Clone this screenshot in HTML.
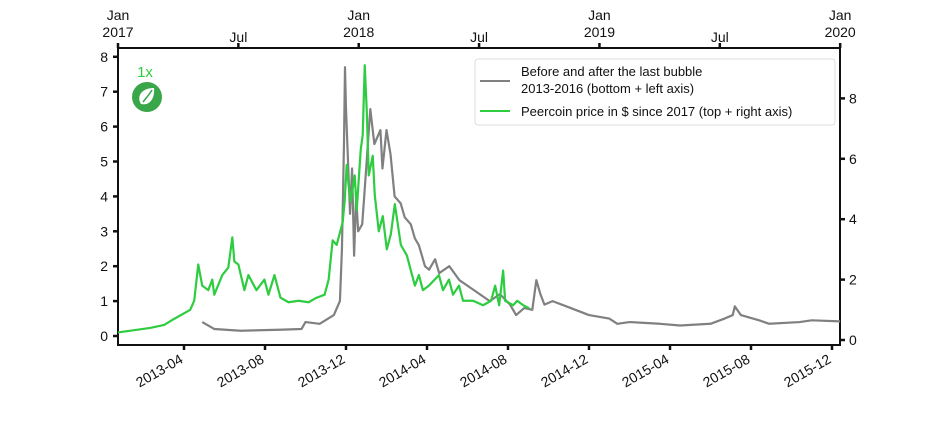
<!DOCTYPE html>
<html><head><meta charset="utf-8"><style>
body{margin:0;background:#fff;}
svg{font-family:"Liberation Sans",sans-serif;}
</style></head><body>
<svg id="chart" width="936" height="432" viewBox="0 0 936 432" xmlns="http://www.w3.org/2000/svg">
<g id="axes"></g>
<g id="series"></g>
<g>
  <text x="145" y="77" font-size="15" fill="#2ecc40" text-anchor="middle">1x</text>
  <circle cx="147" cy="97" r="15" fill="#3aa64a"/>
  <path d="M141 104 C136 96 142 88 154 88 C155 98 150 106 141 104 Z" fill="#fff"/>
  <path d="M143 102 C146 98 149 95 152 90" stroke="#3aa64a" stroke-width="1.5" fill="none"/>
</g>
<g>
  <rect x="475" y="59" width="360" height="66" rx="3" fill="#fff" stroke="#ddd" stroke-width="1"/>
  <line x1="480" y1="81" x2="510" y2="81" stroke="#808080" stroke-width="2"/>
  <text x="521" y="76" font-size="13" fill="#111">Before and after the last bubble</text>
  <text x="521" y="93" font-size="13" fill="#111">2013-2016 (bottom + left axis)</text>
  <line x1="480" y1="111" x2="510" y2="111" stroke="#2ecc40" stroke-width="2"/>
  <text x="521" y="116" font-size="13" fill="#111">Peercoin price in $ since 2017 (top + right axis)</text>
</g>
</svg>
<script>
// Gray series: months since 2013-01 (bottom axis), value on left axis
const grayMonths=[3.9,4.5,5.8,7.7,8.8,9.0,9.7,10.4,10.7,10.8,10.9,10.95,11.0,11.1,11.2,11.3,11.4,11.5,11.6,11.8,11.9,12.2,12.4,12.7,12.8,13.0,13.2,13.4,13.7,13.9,14.2,14.4,14.6,14.9,15.1,15.4,15.6,16.1,16.6,17.1,17.6,18.1,18.6,19.1,19.4,19.8,20.2,20.4,20.6,20.8,21.2,22.1,23.0,24.0,24.4,25.0,26.5,27.5,29.0,29.7,30.1,30.2,30.5,31.4,31.9,33.4,34.0,35.4];
const grayValues=[0.4,0.2,0.15,0.18,0.2,0.4,0.35,0.6,1.0,2.5,5.5,7.7,6.5,5.0,3.5,4.8,2.3,4.0,3.0,3.2,4.0,6.5,5.5,5.9,4.8,5.9,5.2,4.0,3.8,3.4,3.2,2.8,2.6,2.0,1.9,2.2,1.8,2.0,1.6,1.4,1.2,1.0,1.2,0.9,0.6,0.8,0.75,1.6,1.2,0.9,1.0,0.8,0.6,0.5,0.35,0.4,0.35,0.3,0.35,0.5,0.6,0.85,0.6,0.45,0.35,0.4,0.45,0.42];
// Green series: months since 2017-01 (top axis), value on right axis
const greenMonths=[0,1.6,2.3,2.8,3.6,3.8,4.0,4.2,4.5,4.7,4.8,5.2,5.5,5.7,5.8,6.0,6.3,6.5,6.9,7.3,7.5,7.8,8.1,8.5,9.0,9.5,9.9,10.3,10.5,10.7,10.9,11.2,11.3,11.4,11.5,11.6,11.8,11.9,12.1,12.2,12.3,12.4,12.5,12.7,12.8,13.0,13.2,13.4,13.6,13.8,14.1,14.4,14.6,14.8,15.0,15.2,15.5,16.0,16.2,16.5,16.7,17.0,17.2,17.7,18.2,18.6,18.8,19.0,19.2,19.3,19.7,19.9,20.2,20.5];
const greenValues=[0.25,0.4,0.5,0.7,1.0,1.3,2.5,1.8,1.65,2.0,1.5,2.15,2.4,3.4,2.6,2.5,1.65,2.15,1.65,2.0,1.5,2.15,1.4,1.25,1.3,1.25,1.4,1.5,2.0,3.3,3.15,3.9,4.6,5.8,5.1,4.6,5.45,4.3,6.3,6.8,9.1,7.6,5.45,6.1,4.8,3.6,4.1,3.0,3.5,4.5,3.15,2.8,2.3,1.8,2.15,1.65,1.8,2.15,1.65,2.0,1.5,1.8,1.3,1.3,1.15,1.3,1.8,1.15,2.3,1.3,1.15,1.3,1.15,1.05];
const leftTicks=[0,1,2,3,4,5,6,7,8];
const rightTicks=[0,2,4,6,8];
const bottomTickMonths=[3,7,11,15,19,23,27,31,35];
const bottomTickLabels=["2013-04","2013-08","2013-12","2014-04","2014-08","2014-12","2015-04","2015-08","2015-12"];
const topTickMonths=[0,6,12,18,24,30,36];
const topTickLabels=["Jan|2017","Jul","Jan|2018","Jul","Jan|2019","Jul","Jan|2020"];

const L=118,R=840,T=48,B=345;
const xB=m=>123.25+20.25*m;
const xT=m=>118+20.06*m;
const yL=v=>336-34.9*v;
const yR=v=>340-30.2*v;
const NS="http://www.w3.org/2000/svg";
const axes=document.getElementById('axes'),series=document.getElementById('series');
function mk(tag,attrs,parent){const e=document.createElementNS(NS,tag);for(const k in attrs)e.setAttribute(k,attrs[k]);parent.appendChild(e);return e;}

const frame=mk('rect',{x:L,y:T,width:R-L,height:B-T,fill:'none',stroke:'#111','stroke-width':2},axes);



leftTicks.forEach(v=>{
  const t=mk('line',{x1:L-5,x2:L,y1:yL(v),y2:yL(v),stroke:'#111','stroke-width':2.5},axes);
  
  
  const s=mk('text',{x:L-10,y:yL(v)+5,'font-size':14,'text-anchor':'end',fill:'#111'},axes);
  
  
  s.textContent=v;
});
rightTicks.forEach(v=>{
  const t=mk('line',{x1:R,x2:R+5,y1:yR(v),y2:yR(v),stroke:'#111','stroke-width':2.5},axes);
  
  
  const s=mk('text',{x:R+9,y:yR(v)+5,'font-size':14,fill:'#111'},axes);
  
  
  s.textContent=v;
});
bottomTickMonths.forEach((m,i)=>{
  const x=xB(m);
  const t=mk('line',{x1:x,x2:x,y1:B,y2:B+5,stroke:'#111','stroke-width':2.5},axes);
  
  
  const s=mk('text',{x:x,y:B+17,'font-size':14,'text-anchor':'end',fill:'#111',transform:`rotate(-30 ${x} ${B+17})`},axes);
  
  
  s.textContent=bottomTickLabels[i];
});
topTickMonths.forEach((m,i)=>{
  const x=xT(m);
  const t=mk('line',{x1:x,x2:x,y1:T-5,y2:T,stroke:'#111','stroke-width':2.5},axes);
  
  
  const parts=topTickLabels[i].split('|');
  parts.forEach((p,j)=>{
    const yy=parts.length===2?(j===0?20:37):42;
    const s=mk('text',{x:x,y:yy,'font-size':14,'text-anchor':'middle',fill:'#111'},axes);
    
    
    s.textContent=p;
  });
});

const gp=mk('polyline',{points:grayMonths.map((m,i)=>xB(m)+','+yL(grayValues[i])).join(' '),fill:'none',stroke:'#808080','stroke-width':2.2,'stroke-linejoin':'round'},series);


const gr=mk('polyline',{points:greenMonths.map((m,i)=>xT(m)+','+yR(greenValues[i])).join(' '),fill:'none',stroke:'#2ecc40','stroke-width':2.2,'stroke-linejoin':'round'},series);


</script>
</body></html>
